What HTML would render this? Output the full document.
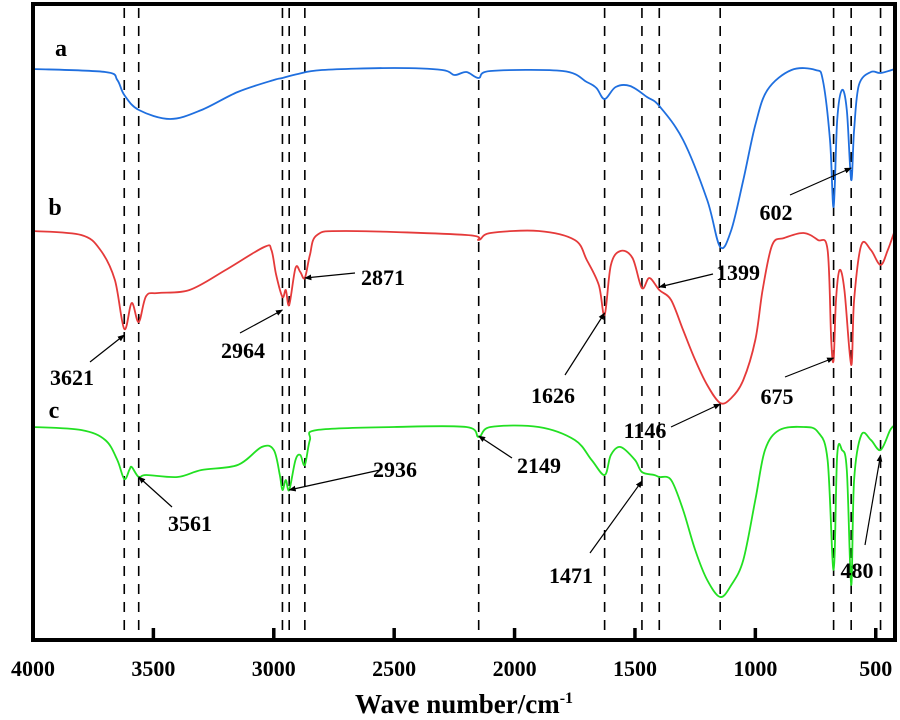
<!DOCTYPE html>
<html><head><meta charset="utf-8"><style>
html,body{margin:0;padding:0;background:#fff;}
svg{display:block;font-family:"Liberation Serif",serif;font-weight:bold;}
</style></head><body>
<svg id="chart" width="900" height="720" viewBox="0 0 900 720"></svg>
<script>
// wavenumbers (cm-1) and relative transmittance values (arbitrary units, larger = higher)
const wnA=[4000,3700,3650,3621,3560,3430,3300,3150,3000,2964,2900,2800,2500,2300,2250,2200,2149,2100,1800,1700,1660,1626,1580,1520,1450,1399,1300,1200,1146,1100,1050,1000,950,850,750,720,690,675,660,640,620,602,590,570,520,480,420];
const valA=[571,568,560,545,530,521,530,548,560,562,566,570,572,570,565,568,562,569,569,558,552,541,553,554,543,534,500,440,393,410,460,515,550,570,570,560,500,433,520,550,530,460,510,555,568,567,571];
const wnB=[4000,3800,3720,3660,3621,3590,3561,3530,3480,3350,3200,3040,3010,2990,2964,2950,2936,2910,2890,2871,2850,2820,2700,2200,2149,2100,1900,1750,1700,1650,1626,1600,1560,1510,1471,1440,1399,1350,1300,1250,1200,1146,1100,1050,1000,970,930,880,800,740,700,685,675,665,650,630,602,590,560,520,480,450,420];
const valB=[409,405,390,360,311,337,318,344,347,350,370,393,390,365,343,350,335,372,368,362,385,405,409,405,400,407,409,400,380,355,325,375,389,382,352,362,350,340,310,280,255,237,242,260,300,350,395,402,407,400,390,300,280,340,370,350,275,340,395,390,375,390,410];
const wnC=[4000,3800,3700,3650,3621,3600,3590,3561,3530,3400,3300,3150,3050,3000,2975,2964,2950,2936,2910,2890,2871,2850,2820,2500,2200,2149,2100,1900,1750,1680,1626,1600,1560,1500,1471,1420,1399,1350,1300,1250,1200,1146,1100,1050,1000,960,900,800,740,700,675,660,640,620,602,590,560,520,480,440,420];
const valC=[213,210,200,180,161,170,173,163,165,163,170,175,193,190,165,150,160,150,180,185,175,200,210,213,213,203,213,213,200,180,165,185,193,180,168,165,163,160,130,90,60,43,55,80,140,190,210,213,208,180,70,185,190,170,55,160,205,200,190,210,215];
const tickVals=[4000,3500,3000,2500,2000,1500,1000,500];
const markerLines=[3621,3561,2964,2936,2871,2149,1626,1471,1399,1146,675,602,480];
const annText=["2871","3621","2964","1626","1399","602","1146","675","3561","2936","2149","1471","480"];
const annTarget=[[2871,362],[3621,305],[2964,330],[1626,327],[1399,353],[602,472],[1146,236],[675,282],[3561,163],[2936,150],[2149,204],[1471,159],[480,185]];
const annPos=[[383,285],[72,385],[243,358],[553,403],[738,280],[776,220],[645,438],[777,404],[190,531],[395,477],[539,473],[571,583],[857,578]];
const annFrom=[[355,273],[90,362],[240,333],[565,375],[713,274],[790,195],[671,427],[785,377],[172,507],[380,470],[512,458],[590,553],[865,545]];

const X0=33,X1=895,Y0=4,Y1=640,W0=4000,W1=420;
const x=w=>X0+(W0-w)*(X1-X0)/(W0-W1);
const y=v=>640-v;
const svg=document.getElementById('chart');
const NS='http://www.w3.org/2000/svg';
function mk(t,a){const e=document.createElementNS(NS,t);for(const k in a)e.setAttribute(k,a[k]);svg.appendChild(e);return e;}

const defs=mk('defs',{});
defs.innerHTML='<marker id="ah" viewBox="0 0 10 10" refX="9" refY="5" markerWidth="6" markerHeight="6" orient="auto"><path d="M0,1L10,5L0,9z" fill="#000"/></marker>';

// dashed reference lines
markerLines.forEach(w=>{
  const l=mk('line',{x1:x(w),x2:x(w),y1:8,y2:632,stroke:'#000','stroke-width':1.6,'stroke-dasharray':'10 8'});
  
  
});

function curve(wn,val){
  const p=wn.map((w,i)=>[x(w),y(val[i])]);
  let d='M'+p[0][0].toFixed(1)+','+p[0][1].toFixed(1);
  for(let i=0;i<p.length-1;i++){
    const p0=p[Math.max(i-1,0)],p1=p[i],p2=p[i+1],p3=p[Math.min(i+2,p.length-1)];
    const c1=[p1[0]+(p2[0]-p0[0])/6,p1[1]+(p2[1]-p0[1])/6];
    const c2=[p2[0]-(p3[0]-p1[0])/6,p2[1]-(p3[1]-p1[1])/6];
    d+='C'+c1[0].toFixed(1)+','+c1[1].toFixed(1)+' '+c2[0].toFixed(1)+','+c2[1].toFixed(1)+' '+p2[0].toFixed(1)+','+p2[1].toFixed(1);
  }
  return d;
}
const sA=mk('path',{d:curve(wnA,valA),fill:'none',stroke:'#1f6fdf','stroke-width':1.8});


const sB=mk('path',{d:curve(wnB,valB),fill:'none',stroke:'#e53a3a','stroke-width':1.8});


const sC=mk('path',{d:curve(wnC,valC),fill:'none',stroke:'#22e022','stroke-width':1.8});



// curve labels
[['a',61,56],['b',55,215],['c',54,418]].forEach(s=>{
  const t=mk('text',{x:s[1],y:s[2],'font-size':24,'text-anchor':'middle'});t.textContent=s[0];
  
  
});

// annotations
annText.forEach((s,i)=>{
  const tg=annTarget[i];
  const ar=mk('line',{x1:annFrom[i][0],y1:annFrom[i][1],x2:x(tg[0]),y2:y(tg[1]),stroke:'#000','stroke-width':1.2,'marker-end':'url(#ah)'});
  
  
  const t=mk('text',{x:annPos[i][0],y:annPos[i][1],'font-size':22,'text-anchor':'middle'});
  t.textContent=s;
  
  
});

// frame
const fr=mk('rect',{x:X0,y:Y0,width:X1-X0,height:Y1-Y0,fill:'none',stroke:'#000','stroke-width':4});



// ticks
tickVals.forEach(v=>{
  if(v!==4000){
    const tk=mk('line',{x1:x(v),x2:x(v),y1:Y1,y2:Y1-12,stroke:'#000','stroke-width':3.5});
    
    
  }
  const t=mk('text',{x:x(v),y:676,'font-size':22,'text-anchor':'middle'});
  t.textContent=v;
  
  
});

const tt=mk('text',{x:464,y:713,'font-size':27,'text-anchor':'middle'});
tt.innerHTML='Wave number/cm<tspan dy="-10" font-size="16">-1</tspan>';


</script>
</body></html>
